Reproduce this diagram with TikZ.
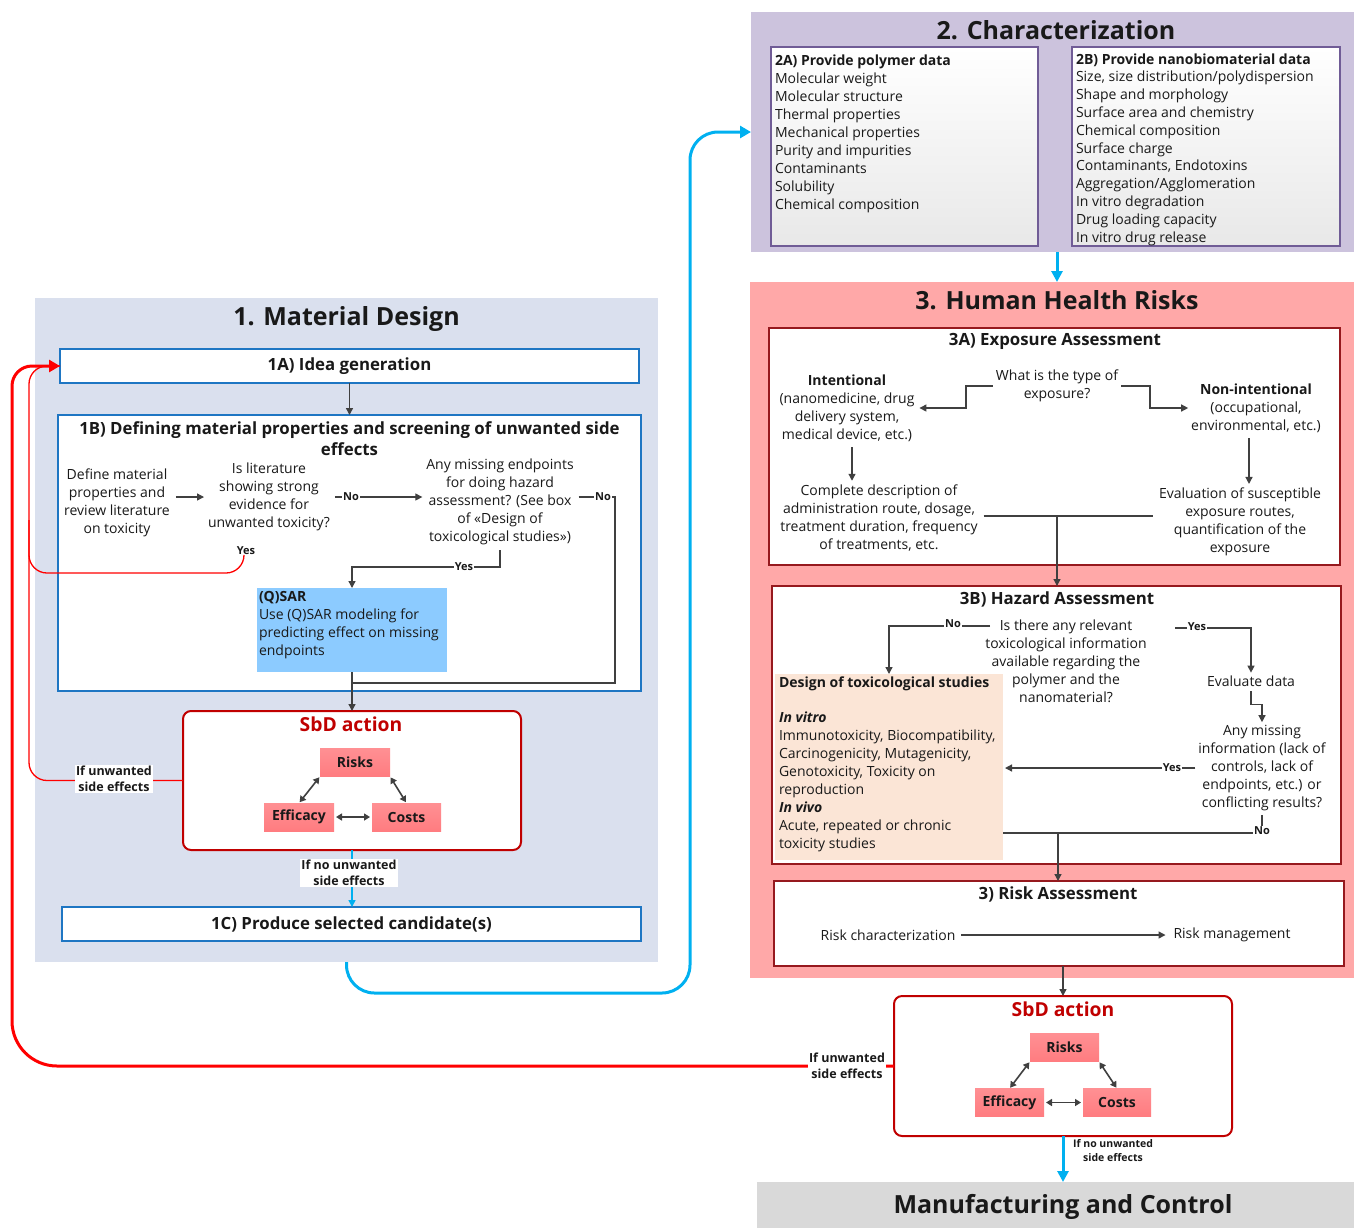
\documentclass[tikz,border=0pt]{standalone}
\usepackage{fontspec}
\setmainfont{Open Sans}
\usetikzlibrary{arrows.meta,calc}
\definecolor{pone}{RGB}{218,224,238}
\definecolor{ptwo}{RGB}{204,195,221}
\definecolor{pthree}{RGB}{255,168,168}
\definecolor{pman}{RGB}{217,217,217}
\definecolor{bblue}{RGB}{30,118,195}
\definecolor{sbdred}{RGB}{192,0,0}
\definecolor{salmon}{RGB}{255,124,128}
\definecolor{cyanl}{RGB}{0,176,240}
\definecolor{garr}{RGB}{64,64,64}
\definecolor{maroonb}{RGB}{150,25,30}
\definecolor{qsarc}{RGB}{140,203,255}
\definecolor{peach}{RGB}{251,229,214}
\definecolor{purp}{RGB}{112,92,150}
\newcommand\myfs[2]{\fontsize{#1}{#2}\selectfont}
\begin{document}
\begin{tikzpicture}[x=1pt,y=-1pt,
  every node/.style={inner sep=0pt, outer sep=0pt, text=black!90},
  panel/.style={fill=#1, draw=none},
  ptitle/.style={font=\bfseries\myfs{25}{28}},
  bluebox/.style={draw=bblue, line width=2.5pt, fill=white},
  hdr/.style={font=\bfseries\myfs{16.8}{21}, align=center},
  body/.style={font=\myfs{14}{18}, align=center},
  lbody/.style={font=\myfs{14}{18}, align=left},
  garrow/.style={draw=garr, line width=1.3pt, -{Triangle[length=7pt,width=7pt]}},
  gline/.style={draw=garr, line width=1.3pt},
  yn/.style={font=\bfseries\myfs{11}{12}, fill=white, inner sep=1pt},
  sbdbox/.style={draw=sbdred, line width=2pt, rounded corners=8pt, fill=white},
  sbdtitle/.style={font=\bfseries\myfs{19.3}{21}, text=sbdred},
  fac/.style={top color=salmon!85, bottom color=salmon, font=\bfseries\myfs{14}{15}, minimum height=28pt},
  dbl/.style={draw=garr, line width=1.6pt, {Triangle[length=6pt,width=7pt]}-{Triangle[length=6pt,width=7pt]}, shorten <=1pt, shorten >=1pt},
  sidelbl/.style={font=\bfseries\myfs{12.5}{16}, fill=white, align=center, inner sep=1.5pt},
  redthin/.style={draw=red, line width=1.3pt},
  redthick/.style={draw=red, line width=3pt},
  cyanthick/.style={draw=cyanl, line width=3pt},
  cyanthin/.style={draw=cyanl, line width=1.5pt, -{Triangle[length=7pt,width=7pt]}},
  maroonbox/.style={draw=maroonb, line width=2pt, fill=white},
  purpbox/.style={draw=purp, line width=2pt, top color=white, bottom color=black!9}
]
\useasboundingbox (0,0) rectangle (1354,1227);

% ---------- panels ----------
\node[panel=pone, minimum width=623pt, minimum height=664pt] (p1) at (346.5,630) {};
\node[ptitle] (tp1) at (346.5,318.5) {1. Material Design};
\node[panel=ptwo, minimum width=603pt, minimum height=240pt] (p2) at (1052.5,132) {};
\node[ptitle] (tp2) at (1056,30) {2. Characterization};
\node[panel=pthree, minimum width=604pt, minimum height=696pt] (p3) at (1052,630) {};
\node[ptitle] (tp3) at (1057,300.5) {3. Human Health Risks};
\node[panel=pman, minimum width=597pt, minimum height=46pt] (pm) at (1055.5,1205) {};
\node[ptitle] (tpm) at (1063,1207) {Manufacturing and Control};

% ---------- 1. Material design ----------
\node[bluebox, hdr, minimum width=579pt, minimum height=34pt] (n1a) at (349.5,366) {\raisebox{2pt}{1A) Idea generation}};
\node[bluebox, minimum width=583pt, minimum height=276pt] (n1b) at (349.5,553) {};
\node[hdr] (t1b) at (349.5,438.5) {1B) Defining material properties and screening of unwanted side\\effects};
\node[body] (def) at (117,502.5) {Define material\\properties and\\review literature\\on toxicity};
\node[body] (lit) at (269,497) {Is literature\\showing strong\\evidence for\\unwanted toxicity?};
\node[body] (miss) at (500,502) {Any missing endpoints\\for doing hazard\\assessment? (See box\\of «Design of\\toxicological studies»)};
\node[fill=qsarc, minimum width=190pt, minimum height=84pt] (qsar) at (352,630) {};
\node[lbody, anchor=north west] (qsartxt) at (259,591) {\textbf{(Q)SAR}\\Use (Q)SAR modeling for\\predicting effect on missing\\endpoints};
\node[bluebox, hdr, minimum width=579pt, minimum height=34pt] (n1c) at (351.5,924) {\raisebox{2pt}{1C) Produce selected candidate(s)}};

\node[sbdbox, minimum width=338pt, minimum height=139pt] (sbdl) at (352,780.5) {};
\node[sbdtitle] (sbdlt) at (351,724) {SbD action};
\node[fac, minimum width=70pt] (risk1) at (355,762.5) {Risks};
\node[fac, minimum width=70pt] (eff1) at (299,817) {Efficacy};
\node[fac, minimum width=69pt] (cost1) at (406.5,817) {Costs};
\draw[dbl] (eff1.north) -- (risk1.south west);
\draw[dbl] (risk1.south east) -- (cost1.north);
\draw[dbl, shorten <=2pt, shorten >=2pt] (eff1.east) -- (cost1.west);

\draw[garrow] (n1a.south) -- (n1a.south |- n1b.north);
\draw[garrow, shorten <=6pt, shorten >=4pt] (def.east |- lit.west) -- (lit.west);
\draw[garrow, shorten <=5pt, shorten >=4pt] (lit.east) -- (lit.east -| miss.west);
\node[yn] (no1) at (351,497) {No};
\coordinate (cno) at (615,683);
\draw[gline, shorten <=5pt] (miss.east |- lit.east) -- (cno |- lit.east) -- (cno) -- (cno -| qsar.south);
\node[yn] (no2) at (603,497) {No};
\coordinate (cyes) at (500,567);
\draw[garrow, shorten <=5pt] (miss.south) -- (cyes) -| (qsar.north);
\node[yn] (yes2) at (464,567) {Yes};
\draw[garrow] (qsar.south) -- (sbdl.north);
\draw[cyanthin] (sbdl.south) -- (sbdl.south |- n1c.north);
\node[sidelbl] (lnone1) at (349,873) {If no unwanted\\side effects};

% ---------- 2. Characterization ----------
\node[purpbox, minimum width=267pt, minimum height=199pt] (b2a) at (904.5,146.5) {};
\node[lbody, anchor=north west] (t2a) at (775,54.5) {\textbf{2A) Provide polymer data}\\Molecular weight\\Molecular structure\\Thermal properties\\Mechanical properties\\Purity and impurities\\Contaminants\\Solubility\\Chemical composition};
\node[purpbox, minimum width=268pt, minimum height=199pt] (b2b) at (1206,146.5) {};
\node[lbody, anchor=north west, font=\myfs{14}{17.8}] (t2b) at (1076,53.5) {\textbf{2B) Provide nanobiomaterial data}\\Size, size distribution/polydispersion\\Shape and morphology\\Surface area and chemistry\\Chemical composition\\Surface charge\\Contaminants, Endotoxins\\Aggregation/Agglomeration\\In vitro degradation\\Drug loading capacity\\In vitro drug release};

% ---------- 3. Human health risks ----------
\node[maroonbox, minimum width=571pt, minimum height=237pt] (b3a) at (1054.5,446.5) {};
\node[hdr] (t3a) at (1055,341) {3A) Exposure Assessment};
\node[body] (q3) at (1057,386) {What is the type of\\exposure?};
\node[body] (int) at (847,408) {\textbf{Intentional}\\(nanomedicine, drug\\delivery system,\\medical device, etc.)};
\node[body] (nonint) at (1256,408) {\textbf{Non-intentional}\\(occupational,\\environmental, etc.)};
\node[body] (comp) at (879,518) {Complete description of\\administration route, dosage,\\treatment duration, frequency\\of treatments, etc.};
\node[body] (eval) at (1240,522) {Evaluation of susceptible\\exposure routes,\\quantification of the\\exposure};
\draw[garrow, shorten <=3pt, shorten >=5pt] (q3.west) -- ++(-30,0) |- (int.east);
\draw[garrow, shorten <=3pt, shorten >=3pt] (q3.east) -- ++(32,0) |- (nonint.west);
\draw[garrow, shorten <=6pt, shorten >=4pt] ([xshift=5pt]int.south) -- ([xshift=5pt]int.south |- comp.north);
\draw[garrow, shorten <=6pt, shorten >=4pt] ([xshift=-7pt]nonint.south) -- ([xshift=-7pt]nonint.south |- eval.north);
\coordinate (j3a) at (1057,516);
\draw[gline, shorten <=6pt, shorten >=6pt] (comp.east |- j3a) -- (eval.west |- j3a);

\node[maroonbox, minimum width=569pt, minimum height=278pt] (b3b) at (1056.5,725) {};
\draw[garrow] (j3a) -- (j3a |- b3b.north);
\node[hdr] (t3b) at (1057,599) {3B) Hazard Assessment};
\node[body] (q3b) at (1066,661.5) {Is there any relevant\\toxicological information\\available regarding the\\polymer and the\\nanomaterial?};
\node[fill=peach, minimum width=228pt, minimum height=186pt] (design) at (889,767) {};
\node[lbody, anchor=north west] (destxt) at (779,677) {\textbf{Design of toxicological studies}\\[17pt]\textbf{\textit{In vitro}}\\Immunotoxicity, Biocompatibility,\\Carcinogenicity, Mutagenicity,\\Genotoxicity, Toxicity on\\reproduction\\\textbf{\textit{In vivo}}\\Acute, repeated or chronic\\toxicity studies};
\coordinate (qno) at (990,626);
\draw[garrow] (qno) -| (design.north);
\node[yn] (no3) at (953,624) {No};
\node[body] (evd) at (1251,681) {Evaluate data};
\coordinate (qyes) at (1175,628);
\draw[garrow, shorten >=3pt] (qyes) -| (evd.north);
\node[yn] (yes3) at (1197,627) {Yes};
\node[body] (anym) at (1262,768) {Any missing\\information (lack of\\controls, lack of\\endpoints, etc.) or\\conflicting results?};
\draw[garrow, shorten >=3pt] ([yshift=-5pt]evd.south) -- ++(0,13) -| (anym.north);
\draw[garrow, shorten <=3pt, shorten >=2pt] (anym.west) -- (anym.west -| design.east);
\node[yn] (yes4) at (1172,768) {Yes};
\coordinate (cno2) at (1262,833);
\draw[gline, shorten <=4pt] (anym.south) -- (cno2) -- (cno2 -| design.east);
\node[yn] (no4) at (1262,831) {No};

\node[maroonbox, minimum width=570pt, minimum height=85pt] (ra) at (1059,923.5) {};
\coordinate (j3b) at (1058,833);
\draw[garrow] (j3b) -- (j3b |- ra.north);
\node[hdr] (tra) at (1058,894) {3) Risk Assessment};
\node[body] (rc) at (888,935) {Risk characterization};
\node[body] (rm) at (1232,935) {Risk management};
\draw[garrow, shorten <=6pt, shorten >=8pt] (rc.east) -- (rm.west);

\node[sbdbox, minimum width=338pt, minimum height=140pt] (sbdr) at (1063,1066) {};
\draw[garrow] (ra.south -| sbdr.north) -- (sbdr.north);
\node[sbdtitle] (sbdrt) at (1063,1009) {SbD action};
\node[fac, minimum width=69pt] (risk2) at (1064.5,1047.5) {Risks};
\node[fac, minimum width=69pt] (eff2) at (1009.5,1102.5) {Efficacy};
\node[fac, minimum width=68pt] (cost2) at (1117,1102.5) {Costs};
\draw[dbl] (eff2.north) -- (risk2.south west);
\draw[dbl] (risk2.south east) -- (cost2.north);
\draw[dbl, shorten <=2pt, shorten >=2pt] (eff2.east) -- (cost2.west);
\draw[cyanthick, -{Triangle[length=11pt,width=11pt]}] (sbdr.south) -- (sbdr.south |- pm.north);
\node[font=\bfseries\myfs{10.5}{14}, align=center] (lnone2) at (1113,1151) {If no unwanted\\side effects};

% ---------- long connectors ----------
\coordinate (cx) at (1057,0);
\draw[cyanthick, -{Triangle[length=11pt,width=11pt]}] (p2.south -| cx) -- (p3.north -| cx);
\draw[cyanthick, rounded corners=28pt, -{Triangle[length=11pt,width=12pt]}] (p1.south) -- (346.5,993) -- (690,993) -- (690,132) -- (p2.west);

\node[yn, fill=none] (yes1) at (246,551) {Yes};
\coordinate (ry) at (0,573);
\draw[redthin, rounded corners=18pt] ([xshift=-2pt]yes1.south) -- ([xshift=-2pt]yes1.south |- ry) -- (29,573) -- (29,520);
\draw[redthin, rounded corners=18pt] (sbdl.west) -- (29,780.5) -- (29,366) -- (n1a.west);
\node[sidelbl] (lun1) at (114,779) {If unwanted\\side effects};
\draw[redthick, -{Triangle[length=11pt,width=12pt]}] (sbdr.west) [rounded corners=45pt] -- (12,1066) [rounded corners=20pt] -- (12,366) -- (n1a.west);
\node[sidelbl] (lun2) at (847,1066) {If unwanted\\side effects};
\end{tikzpicture}
\end{document}
